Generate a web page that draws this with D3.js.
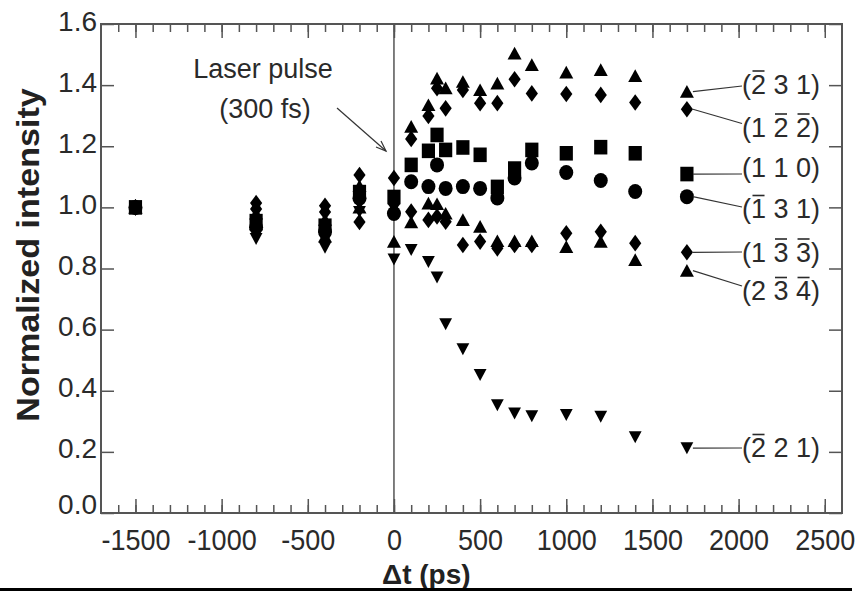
<!DOCTYPE html>
<html>
<head>
<meta charset="utf-8">
<script src="https://cdn.jsdelivr.net/npm/d3@7"></script>
<style>
body { margin: 0; background: #fff; }
svg { display: block; font-family: "Liberation Sans", Arial, sans-serif; }
</style>
</head>
<body>
<script>
// delay times (ps)
const times = [-1500, -800, -400, -200, 0, 100, 200, 250, 300, 400, 500, 600, 700, 800, 1000, 1200, 1400, 1700];

// normalized intensity per reflection
const s231 = [1.0, 0.98, 0.96, 1.07, 1.0, 1.264, 1.335, 1.422, 1.39, 1.411, 1.384, 1.406, 1.504, 1.466, 1.442, 1.45, 1.43, 1.379];
const s122 = [1.0, 1.014, 1.005, 1.106, 1.096, 1.224, 1.299, 1.39, 1.324, 1.384, 1.341, 1.341, 1.419, 1.373, 1.371, 1.368, 1.343, 1.321];
const s110 = [1.0, 0.955, 0.94, 1.05, 1.034, 1.139, 1.185, 1.237, 1.188, 1.196, 1.172, 1.067, 1.127, 1.188, 1.177, 1.197, 1.177, 1.109];
const s131 = [1.0, 0.935, 0.92, 1.03, 0.98, 1.084, 1.068, 1.139, 1.062, 1.068, 1.062, 1.031, 1.096, 1.145, 1.114, 1.088, 1.052, 1.035];
const s133 = [1.0, 0.995, 0.985, 0.952, 1.01, 0.986, 0.959, 0.97, 0.953, 0.877, 0.888, 0.866, 0.877, 0.877, 0.915, 0.92, 0.883, 0.853];
const s234 = [1.0, 0.945, 0.905, 1.0, 0.888, 0.952, 1.013, 1.011, 0.98, 0.959, 0.937, 0.89, 0.89, 0.89, 0.871, 0.888, 0.828, 0.793];
const s221 = [1.0, 0.897, 0.868, 0.985, 0.83, 0.861, 0.822, 0.771, 0.618, 0.536, 0.452, 0.353, 0.326, 0.317, 0.321, 0.315, 0.248, 0.212];

// labels: text, indices of characters that get an overbar
const seriesNames = ["(2 3 1)", "(1 2 2)", "(1 1 0)", "(1 3 1)", "(1 3 3)", "(2 3 4)", "(2 2 1)"];
const seriesBars = [[1], [3, 5], [], [1], [3, 5], [3, 5], [1]];
const seriesShapes = ["triUp", "diamond", "square", "circle", "diamond", "triUp", "triDown"];
const seriesValues = [s231, s122, s110, s131, s133, s234, s221];

const xTicks = [-1500, -1000, -500, 0, 500, 1000, 1500, 2000, 2500];
const xMinorTicks = d3.range(-1600, 2600, 100);
const yTicks = [0, 0.2, 0.4, 0.6, 0.8, 1.0, 1.2, 1.4, 1.6];

const width = 856, height = 591;
const margin = {top: 24, right: 14, bottom: 78, left: 101};

const x = d3.scaleLinear().domain([-1700, 2600]).range([margin.left, width - margin.right]);
const y = d3.scaleLinear().domain([0, 1.6]).range([height - margin.bottom, margin.top]);

const axisCol = "#555", textCol = "#2a2a2a";

const shapes = {
  square: "M-6.6,-7.3h13.2v14.6h-13.2Z",
  circle: "M-7,0a7,7.5 0 1,0 14,0a7,7.5 0 1,0 -14,0Z",
  triUp: "M0,-6.6L7,6.1L-7,6.1Z",
  triDown: "M-6.4,-5.9L6.4,-5.9L0,6.1Z",
  diamond: "M0,-8.3L6.1,0L0,8.3L-6.1,0Z"
};

const svg = d3.select("body").append("svg")
    .attr("width", width)
    .attr("height", height);

// axes
const tickStyle = g => g
    .call(g => g.select(".domain").remove())
    .call(g => g.selectAll(".tick line").attr("stroke", axisCol).attr("stroke-width", 1.5));

svg.append("g")
    .attr("transform", `translate(0,${y(0)})`)
    .call(d3.axisBottom(x).tickValues(xMinorTicks).tickSize(-8).tickFormat(""))
    .call(tickStyle);
svg.append("g")
    .attr("transform", `translate(0,${y(0)})`)
    .call(d3.axisBottom(x).tickValues(xTicks).tickSize(-14).tickFormat(d => String(d)))
    .call(tickStyle)
    .call(g => g.selectAll(".tick text")
        .attr("y", 37 / 1.1).attr("dy", null)
        .attr("transform", "scale(1,1.1)")
        .attr("fill", textCol)
        .attr("font-size", 27));

svg.append("g")
    .attr("transform", `translate(0,${y(1.6)})`)
    .call(d3.axisTop(x).tickValues(xMinorTicks).tickSize(-8).tickFormat(""))
    .call(tickStyle);
svg.append("g")
    .attr("transform", `translate(0,${y(1.6)})`)
    .call(d3.axisTop(x).tickValues(xTicks).tickSize(-14).tickFormat(""))
    .call(tickStyle);

svg.append("g")
    .attr("transform", `translate(${x(-1700)},0)`)
    .call(d3.axisLeft(y).tickValues(yTicks).tickSize(-13).tickFormat(d3.format(".1f")))
    .call(tickStyle)
    .call(g => g.selectAll(".tick text")
        .attr("x", -4).attr("dy", null)
        .attr("y", d => d === 0 ? 0 : 6)
        .attr("fill", textCol)
        .attr("font-size", 28));

svg.append("g")
    .attr("transform", `translate(${x(2600)},0)`)
    .call(d3.axisRight(y).tickValues(yTicks).tickSize(-13).tickFormat(""))
    .call(tickStyle);

// frame and t = 0 line
svg.append("rect")
    .attr("x", x(-1700)).attr("y", y(1.6))
    .attr("width", x(2600) - x(-1700)).attr("height", y(0) - y(1.6))
    .attr("fill", "none").attr("stroke", axisCol).attr("stroke-width", 2);
svg.append("line")
    .attr("x1", x(0)).attr("x2", x(0))
    .attr("y1", y(1.6)).attr("y2", y(0))
    .attr("stroke", axisCol).attr("stroke-width", 1.5);

// points
seriesValues.forEach((vals, i) => {
  svg.append("g")
    .selectAll("path")
    .data(times.map((t, j) => ({t: t, v: vals[j]})))
    .join("path")
      .attr("d", shapes[seriesShapes[i]])
      .attr("transform", d => `translate(${x(d.t)},${y(d.v)})`)
      .attr("fill", "#000");
});

// labels on the right
const labelX = 742;
const labelBase = [93.5, 136.5, 176.5, 218, 261.5, 300, 457];
const labelAnchorY = [86, 123.5, 174, 207, 252, 286, 448];
const last = times.length - 1;

seriesNames.forEach((name, i) => {
  svg.append("line")
      .attr("x1", x(times[last]) + 6).attr("y1", y(seriesValues[i][last]))
      .attr("x2", labelX).attr("y2", labelAnchorY[i])
      .attr("stroke", "#333").attr("stroke-width", 1.2);
  const t = svg.append("text")
      .attr("x", labelX).attr("y", labelBase[i])
      .attr("font-size", 27)
      .attr("fill", textCol)
      .attr("xml:space", "preserve")
      .text(name);
  const node = t.node();
  seriesBars[i].forEach(k => {
    const a = node.getStartPositionOfChar(k).x, b = node.getEndPositionOfChar(k).x;
    svg.append("line")
        .attr("x1", a + 1.5).attr("x2", b - 1.5)
        .attr("y1", labelBase[i] - 22.5).attr("y2", labelBase[i] - 22.5)
        .attr("stroke", textCol).attr("stroke-width", 1.6);
  });
});

// laser pulse annotation
svg.append("text")
    .attr("x", 263).attr("y", 78)
    .attr("text-anchor", "middle").attr("font-size", 27).attr("fill", textCol)
    .text("Laser pulse");
svg.append("text")
    .attr("x", 265).attr("y", 118)
    .attr("text-anchor", "middle").attr("font-size", 27).attr("fill", textCol)
    .text("(300 fs)");
svg.append("line")
    .attr("x1", 337).attr("y1", 108).attr("x2", 386).attr("y2", 151)
    .attr("stroke", "#333").attr("stroke-width", 1.2);
svg.append("path")
    .attr("d", "M376,147L386,151L381,141")
    .attr("fill", "none").attr("stroke", "#333").attr("stroke-width", 1.2);

// axis titles
svg.append("text")
    .attr("transform", "translate(39,255) rotate(-90) scale(1.1,1)")
    .attr("text-anchor", "middle")
    .attr("font-size", 31).attr("font-weight", "bold").attr("fill", "#222")
    .text("Normalized intensity");
svg.append("text")
    .attr("x", 382).attr("y", 584)
    .attr("font-size", 28).attr("font-weight", "bold").attr("fill", "#222")
    .text("\u0394t (ps)");

svg.append("rect")
    .attr("x", 0).attr("y", 588).attr("width", 852).attr("height", 3)
    .attr("fill", "#000");
</script>
</body>
</html>
